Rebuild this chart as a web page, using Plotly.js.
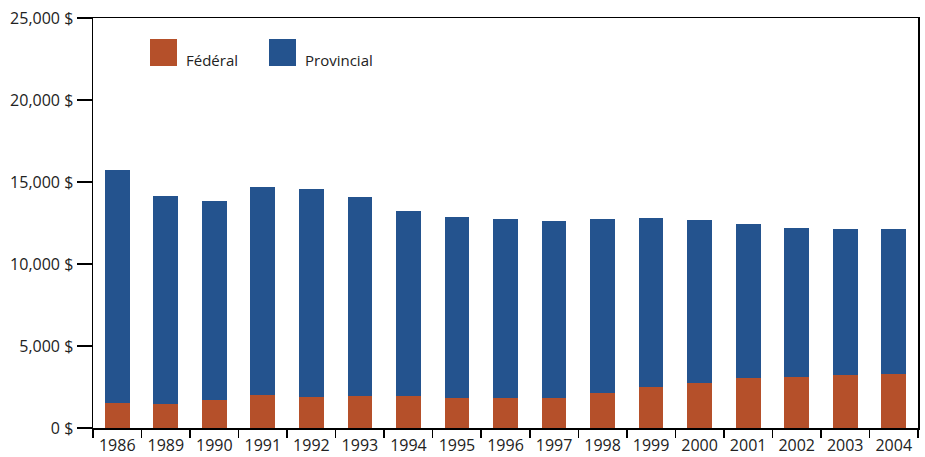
<!DOCTYPE html>
<html>
<head>
<meta charset="utf-8">
<script src="https://cdn.plot.ly/plotly-3.0.1.min.js"></script>
<style>html,body{margin:0;padding:0;background:#fff}#chart{width:925px;height:457px}</style>
</head>
<body>
<div id="chart"></div>
<script>
const years = ['1986','1989','1990','1991','1992','1993','1994','1995','1996','1997','1998','1999','2000','2001','2002','2003','2004'];
const federal = [1540,1480,1720,2030,1910,1970,1970,1850,1850,1850,2160,2520,2770,3070,3130,3250,3310];
const totals = [15720,14140,13830,14690,14560,14080,13220,12860,12730,12610,12730,12790,12670,12430,12190,12130,12130];
const provincial = totals.map((t, i) => t - federal[i]);
const seriesNames = ['Fédéral', 'Provincial'];
const colors = ['#B5502A', '#24538E'];
const yTickVals = [0, 5000, 10000, 15000, 20000, 25000];
const yTickText = ['0 $', '5,000 $', '10,000 $', '15,000 $', '20,000 $', '25,000 $'];

const font = "'Open Sans', 'DejaVu Sans', sans-serif";
const data = [
  {type: 'bar', x: years, y: federal, name: seriesNames[0], marker: {color: colors[0]}, showlegend: false},
  {type: 'bar', x: years, y: provincial, name: seriesNames[1], marker: {color: colors[1]}, showlegend: false}
];
const layout = {
  width: 925, height: 457,
  margin: {l: 93, r: 7, t: 18, b: 29},
  barmode: 'stack',
  bargap: 0.49,
  paper_bgcolor: '#fff', plot_bgcolor: '#fff',
  font: {family: font, size: 15, color: '#222'},
  xaxis: {
    type: 'category', tickson: 'boundaries', ticks: 'outside', ticklen: 8, tickwidth: 1.5, tickcolor: '#000',
    showline: true, linecolor: '#000', linewidth: 1.5, mirror: true, showgrid: false, tickangle: 0,
    ticklabelstandoff: 2,
    tickfont: {family: font, size: 16, color: '#222'}
  },
  yaxis: {
    range: [0, 25000], tickmode: 'array', tickvals: yTickVals, ticktext: yTickText,
    ticks: 'outside', ticklen: 15, tickwidth: 2, tickcolor: '#000',
    showline: true, linecolor: '#000', linewidth: 1.5, mirror: true, showgrid: false, zeroline: false,
    tickfont: {family: font, size: 16, color: '#222'}
  },
  shapes: [
    {type: 'rect', xref: 'paper', yref: 'paper', x0: 57/825, x1: 84/825, y0: 1 - 48/410, y1: 1 - 21/410, fillcolor: colors[0], line: {width: 0}},
    {type: 'rect', xref: 'paper', yref: 'paper', x0: 176/825, x1: 203/825, y0: 1 - 48/410, y1: 1 - 21/410, fillcolor: colors[1], line: {width: 0}}
  ],
  annotations: [
    {xref: 'paper', yref: 'paper', x: 91/825, y: 1 - 42/410, xanchor: 'left', yanchor: 'middle', text: seriesNames[0], showarrow: false, font: {family: font, size: 15, color: '#222'}},
    {xref: 'paper', yref: 'paper', x: 210/825, y: 1 - 42/410, xanchor: 'left', yanchor: 'middle', text: seriesNames[1], showarrow: false, font: {family: font, size: 15, color: '#222'}}
  ]
};
Plotly.newPlot('chart', data, layout, {displayModeBar: false, staticPlot: true});
</script>
</body>
</html>
